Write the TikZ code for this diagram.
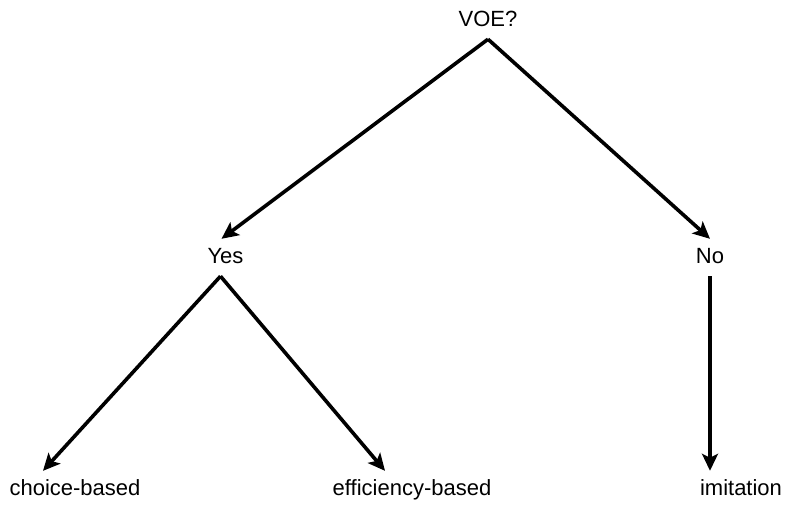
\documentclass[tikz,border=0pt]{standalone}
\usepackage{fontspec}
\setmainfont{Liberation Sans}
\usetikzlibrary{arrows.meta, positioning}

\begin{document}
\begin{tikzpicture}[x=1pt, y=-1pt, >={Stealth[length=17pt, width=16pt, inset=4pt]},
  font=\fontsize{22}{26}\selectfont,
  lbl/.style={inner xsep=4pt, inner ysep=8pt, text height=16pt, text depth=5pt, anchor=base},
  arr/.style={->, line width=3.6pt}]
  \useasboundingbox (0,0) rectangle (785,504);

  \node[lbl] (voe) at (488,26) {VOE?};
  \node[lbl] (yes) at (225.5,263) {Yes};
  \node[lbl] (no) at (710,263) {No};
  \node[lbl] (choice) at (75,495) {choice-based};
  \node[lbl] (eff) at (412,495) {efficiency-based};
  \node[lbl] (imit) at (741,495) {imitation};

  \draw[arr] (voe.south) -- ([xshift=-4pt]yes.north);
  \draw[arr] (voe.south) -- (no.north);
  \draw[arr] ([xshift=-5pt]yes.south) -- ([xshift=-32pt]choice.north);
  \draw[arr] ([xshift=-5pt]yes.south) -- ([xshift=-27pt]eff.north);
  \draw[arr] (no.south) -- (no.south |- imit.north);
\end{tikzpicture}
\end{document}
